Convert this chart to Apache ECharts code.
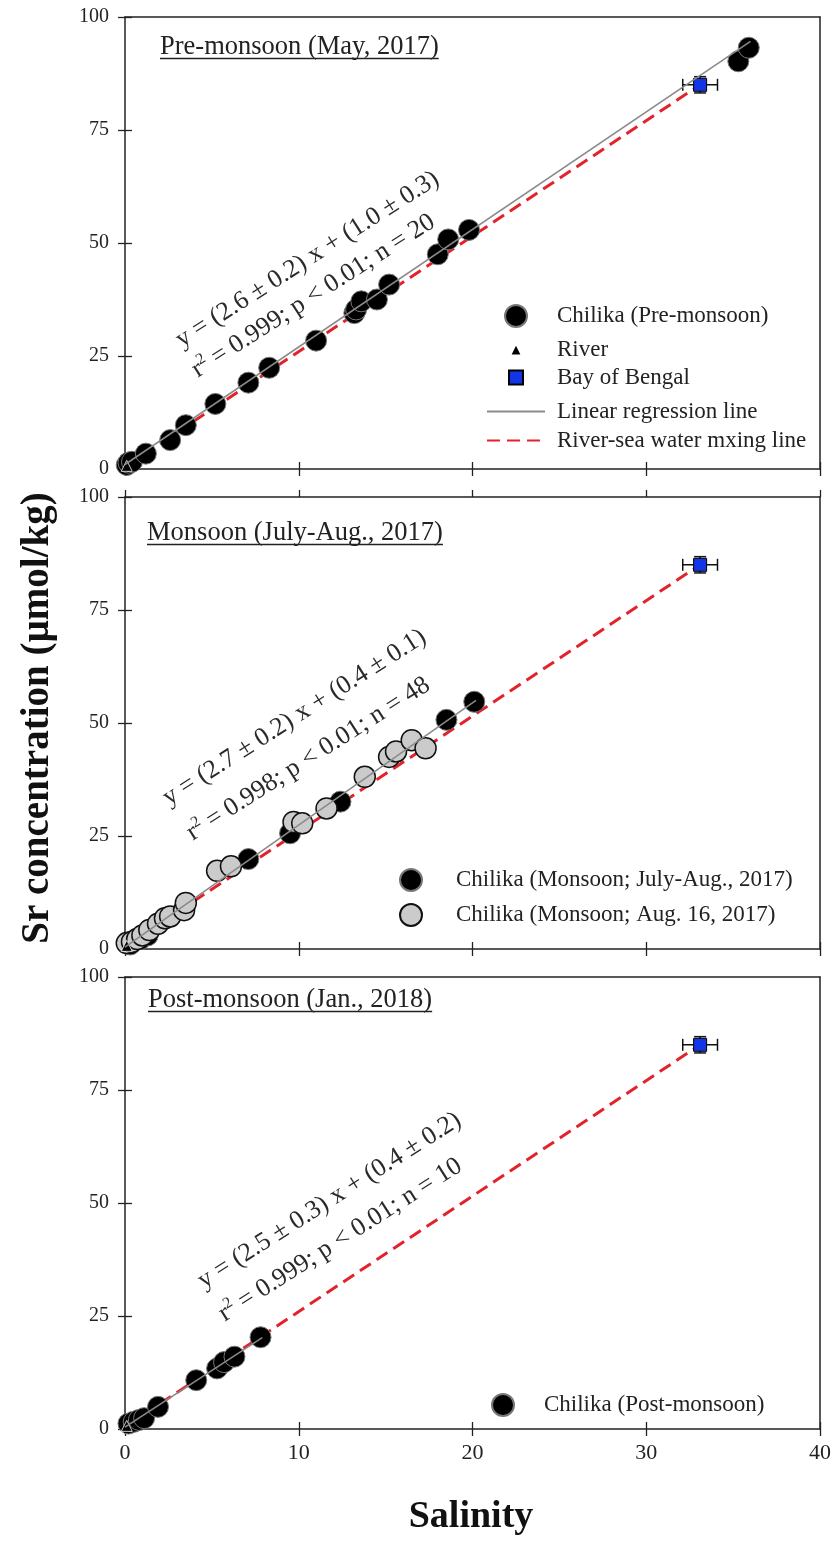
<!DOCTYPE html>
<html><head><meta charset="utf-8">
<script src="https://cdn.jsdelivr.net/npm/echarts@6/dist/echarts.min.js"></script>
<style>html,body{margin:0;padding:0;background:#fff}#c{width:835px;height:1542px}</style>
</head><body><div id="c"></div>
<script>
// ---------------- DATA ----------------
const xTickValues = [0, 10, 20, 30, 40];
const yTickValues = [0, 25, 50, 75, 100];

const preSal = [0.1, 0.2, 0.4, 1.2, 2.6, 3.5, 5.2, 7.1, 8.3, 11.0, 13.2, 13.3, 13.6, 14.5, 15.2, 18.0, 18.6, 19.8, 35.3, 35.9];
const preSr  = [0.9, 1.4, 1.6, 3.4, 6.4, 9.7, 14.4, 19.1, 22.4, 28.4, 34.5, 35.3, 37.1, 37.5, 40.8, 47.5, 50.8, 52.9, 90.2, 93.2];

const monBlackSal = [0.3, 0.9, 1.3, 7.1, 9.5, 12.4, 18.5, 20.1];
const monBlackSr  = [1.0, 2.2, 3.0, 19.9, 25.6, 32.6, 50.7, 54.7];
const monGreySal  = [0.1, 0.4, 0.7, 1.0, 1.4, 1.9, 2.3, 2.6, 3.4, 3.5, 5.3, 6.1, 9.7, 10.2, 11.6, 13.8, 15.2, 15.6, 16.5, 17.3];
const monGreySr   = [1.3, 1.6, 2.2, 3.0, 4.2, 5.6, 6.8, 7.2, 8.6, 10.2, 17.3, 18.3, 28.1, 27.8, 31.1, 38.1, 42.5, 43.7, 46.2, 44.4];

const postSal = [0.2, 0.5, 0.8, 1.1, 1.9, 4.1, 5.3, 5.7, 6.3, 7.8];
const postSr  = [1.2, 1.6, 2.0, 2.4, 4.9, 10.8, 13.4, 14.8, 16.0, 20.3];

const riverPoint = [0.1, 0.7];
const bobPoint = [33.1, 85.0];
const bobError = [1.0, 1.8];

const regPre  = [[0, 1.0], [36.0, 94.6]];
const regMon  = [[0, 0.4], [20.2, 55.0]];
const regPost = [[0, 0.4], [7.9, 20.2]];

const titles = ['Pre-monsoon (May, 2017)', 'Monsoon (July-Aug., 2017)', 'Post-monsoon (Jan., 2018)'];
const eqLine1 = ['y = (2.6 \u00b1 0.2) x + (1.0 \u00b1 0.3)', 'y = (2.7 \u00b1 0.2) x + (0.4 \u00b1 0.1)', 'y = (2.5 \u00b1 0.3) x + (0.4 \u00b1 0.2)'];
const eqLine2 = ['r{sup|2} = 0.999; p < 0.01; n = 20', 'r{sup|2} = 0.998; p < 0.01; n = 48', 'r{sup|2} = 0.999; p < 0.01; n = 10'];

const nameChilikaPre = 'Chilika (Pre-monsoon)';
const nameRiver = 'River';
const nameBoB = 'Bay of Bengal';
const nameReg = 'Linear regression line';
const nameMix = 'River-sea water mxing line';
const nameMonBlack = 'Chilika (Monsoon; July-Aug., 2017)';
const nameMonGrey = 'Chilika (Monsoon; Aug. 16, 2017)';
const namePost = 'Chilika (Post-monsoon)';
const yTitle = 'Sr concentration (\u00b5mol/kg)';
const xTitle = 'Salinity';

// ---------------- LAYOUT / STYLE ----------------
const FONT = '"Liberation Serif","Times New Roman",serif';
const TXT = '#222';
const gridTops = [17, 497, 977];
const GRID_H = 452, GRID_L = 125, GRID_R = 15;

const zip = (a, b) => a.map((v, i) => [v, b[i]]);

function axesFor(i) {
  const lineStyle = {color: '#222', width: 1.5};
  const tickStyle = {color: '#222', width: 1.3};
  const xs = [
    {gridIndex: i, type: 'value', min: 0, max: 40, interval: 10, position: 'bottom',
     axisLine: {show: true, onZero: false, lineStyle},
     axisTick: {show: true, inside: false, length: 7, lineStyle: tickStyle},
     axisLabel: {show: i === 2, margin: 13, fontSize: 22, fontFamily: FONT, color: TXT,
       formatter: v => xTickValues.includes(v) ? String(v) : ''},
     splitLine: {show: false}},
    {gridIndex: i, type: 'value', min: 0, max: 40, interval: 10, position: 'bottom',
     axisLine: {show: false, onZero: false},
     axisTick: {show: true, inside: true, length: 7, lineStyle: tickStyle},
     axisLabel: {show: false}, splitLine: {show: false}},
    {gridIndex: i, type: 'value', min: 0, max: 40, interval: 10, position: 'top',
     axisLine: {show: true, onZero: false, lineStyle},
     axisTick: {show: i === 1, inside: false, length: 7, lineStyle: tickStyle},
     axisLabel: {show: false}, splitLine: {show: false}}
  ];
  const ys = [
    {gridIndex: i, type: 'value', min: 0, max: 100, interval: 25, position: 'left',
     axisLine: {show: true, onZero: false, lineStyle},
     axisTick: {show: true, inside: false, length: 7, lineStyle: tickStyle},
     axisLabel: {show: true, margin: 16, fontSize: 20, fontFamily: FONT, color: TXT,
       formatter: v => yTickValues.includes(v) ? String(v) : ''},
     splitLine: {show: false}},
    {gridIndex: i, type: 'value', min: 0, max: 100, interval: 25, position: 'left',
     axisLine: {show: false, onZero: false},
     axisTick: {show: true, inside: true, length: 7, lineStyle: tickStyle},
     axisLabel: {show: false}, splitLine: {show: false}},
    {gridIndex: i, type: 'value', min: 0, max: 100, interval: 25, position: 'right',
     axisLine: {show: true, onZero: false, lineStyle},
     axisTick: {show: false}, axisLabel: {show: false}, splitLine: {show: false}}
  ];
  return {xs, ys};
}

const xAxis = [], yAxis = [], grid = [];
for (let i = 0; i < 3; i++) {
  grid.push({left: GRID_L, right: GRID_R, top: gridTops[i], height: GRID_H});
  const a = axesFor(i);
  xAxis.push(...a.xs); yAxis.push(...a.ys);
}

const blackCircle = {color: '#000', borderColor: '#777', borderWidth: 1, opacity: 1};
const greyCircle = {color: '#cbcbcb', borderColor: '#111', borderWidth: 1.5, opacity: 1};

function errorBarRender(params, api) {
  const x = api.value(0), y = api.value(1), ex = api.value(2), ey = api.value(3);
  const l = api.coord([x - ex, y]), r = api.coord([x + ex, y]);
  const b = api.coord([x, y - ey]), t = api.coord([x, y + ey]);
  const cap = 6;
  const st = {stroke: '#111', lineWidth: 1.5};
  const ln = (x1, y1, x2, y2) => ({type: 'line', shape: {x1, y1, x2, y2}, style: st});
  return {type: 'group', children: [
    ln(l[0], l[1], r[0], r[1]),
    ln(l[0], l[1] - cap, l[0], l[1] + cap),
    ln(r[0], r[1] - cap, r[0], r[1] + cap),
    ln(b[0], b[1], t[0], t[1]),
    ln(b[0] - cap, b[1], b[0] + cap, b[1]),
    ln(t[0] - cap, t[1], t[0] + cap, t[1])
  ]};
}

function panelSeries(i, scatters, reg) {
  const ax = {xAxisIndex: 3 * i, yAxisIndex: 3 * i};
  const out = [];
  out.push(Object.assign({type: 'line', name: nameMix, data: [riverPoint, bobPoint], symbol: 'none', showSymbol: false,
    lineStyle: {color: '#e3222b', width: 3, type: [13, 7]}, z: 1, silent: true}, ax));
  scatters.forEach(s => out.push(Object.assign({type: 'scatter', name: s.name, data: s.data, symbol: 'circle',
    symbolSize: 21, itemStyle: s.style, z: 2, silent: true}, ax)));
  out.push(Object.assign({type: 'scatter', name: nameRiver, data: [riverPoint], symbol: 'triangle', symbolSize: 11,
    itemStyle: {color: '#000', borderColor: '#fff', borderWidth: 0.8, opacity: 1}, z: 3, silent: true}, ax));
  out.push(Object.assign({type: 'custom', name: 'bob-error', data: [[bobPoint[0], bobPoint[1], bobError[0], bobError[1]]],
    renderItem: errorBarRender, z: 3, silent: true}, ax));
  out.push(Object.assign({type: 'scatter', name: nameBoB, data: [bobPoint], symbol: 'rect', symbolSize: 13,
    itemStyle: {color: '#1236e6', borderColor: '#000', borderWidth: 1, opacity: 1}, z: 4, silent: true}, ax));
  out.push(Object.assign({type: 'line', name: nameReg, data: reg, symbol: 'none', showSymbol: false,
    lineStyle: {color: '#8a8a8a', width: 1.6}, z: 5, silent: true}, ax));
  return out;
}

const series = [
  ...panelSeries(0, [{name: nameChilikaPre, data: zip(preSal, preSr), style: blackCircle}], regPre),
  ...panelSeries(1, [{name: nameMonBlack, data: zip(monBlackSal, monBlackSr), style: blackCircle},
                     {name: nameMonGrey, data: zip(monGreySal, monGreySr), style: greyCircle}], regMon),
  ...panelSeries(2, [{name: namePost, data: zip(postSal, postSr), style: blackCircle}], regPost)
];

// legends: one component per row
const LEG_FONT = 23;
function legendRow(name, cx, textX, cy, iconH, isLine, lineX0, lineW) {
  let left, w, h, pad, extra = {};
  if (isLine) { left = lineX0; w = lineW; h = 4; pad = textX - (lineX0 + lineW + 5); extra = {itemStyle: {opacity: 0}}; }
  else { w = iconH; h = iconH; left = cx - iconH / 2; pad = textX - (cx + iconH / 2 + 5); }
  return Object.assign({show: true, selectedMode: false, orient: 'vertical', left: left, top: cy - h / 2, padding: 0,
    itemWidth: w, itemHeight: h, data: [name],
    textStyle: {fontFamily: FONT, fontSize: LEG_FONT, color: TXT, padding: [0, 0, 0, pad]}}, extra);
}
const legend = [
  legendRow(nameChilikaPre, 515, 556, 315, 22, false),
  legendRow(nameRiver, 515, 556, 344, 12, false),
  legendRow(nameBoB, 515, 556, 373, 14, false),
  legendRow(nameReg, 515, 556, 402, 4, true, 486, 58),
  legendRow(nameMix, 515, 556, 431, 4, true, 486, 58),
  legendRow(nameMonBlack, 410, 455, 879, 22, false),
  legendRow(nameMonGrey, 410, 455, 914, 22, false),
  legendRow(namePost, 502, 543, 1404, 22, false)
];

// text measurement for underlines
const mctx = document.createElement('canvas').getContext('2d');
function textW(str, size, weight) { mctx.font = (weight || 'normal') + ' ' + size + 'px ' + FONT; return mctx.measureText(str).width; }

const TITLE_SIZE = 26.5;
const EQ_SIZE = 26;
const titleLeft = [160, 147, 148];
const titleBase = [56, 542, 1009];
const eqAnchor1 = [[178, 342], [165, 800], [200, 1283]];
const eqAnchor2 = [[194, 372], [189, 835], [221, 1316]];
const EQ_ROT = 32.5 * Math.PI / 180;

const graphic = [];
for (let i = 0; i < 3; i++) {
  const w = textW(titles[i], TITLE_SIZE);
  graphic.push({type: 'text', x: titleLeft[i], y: titleBase[i] - 9, z: 100,
    style: {text: titles[i], font: TITLE_SIZE + 'px ' + FONT, fill: TXT, align: 'left', verticalAlign: 'middle'}});
  graphic.push({type: 'line', z: 100, shape: {x1: titleLeft[i], y1: titleBase[i] + 2.5, x2: titleLeft[i] + w, y2: titleBase[i] + 2.5},
    style: {stroke: TXT, lineWidth: 1.3}});
  graphic.push({type: 'text', x: eqAnchor1[i][0], y: eqAnchor1[i][1], rotation: EQ_ROT, z: 100,
    style: {text: eqLine1[i], font: EQ_SIZE + 'px ' + FONT, fill: '#2a2a2a', align: 'left', verticalAlign: 'middle'}});
  graphic.push({type: 'text', x: eqAnchor2[i][0], y: eqAnchor2[i][1], rotation: EQ_ROT, z: 100,
    style: {text: eqLine2[i], font: EQ_SIZE + 'px ' + FONT, fill: '#2a2a2a', align: 'left', verticalAlign: 'middle',
      rich: {sup: {fontSize: 16, fontFamily: FONT, fill: '#2a2a2a', padding: [0, 0, 14, 0]}}}});
}
graphic.push({type: 'text', x: 38, y: 718, rotation: Math.PI / 2, z: 100,
  style: {text: yTitle, font: 'bold 39px ' + FONT, fill: '#111', align: 'center', verticalAlign: 'middle'}});
graphic.push({type: 'text', x: 471, y: 1517, z: 100,
  style: {text: xTitle, font: 'bold 38px ' + FONT, fill: '#111', align: 'center', verticalAlign: 'middle'}});

const chart = echarts.init(document.getElementById('c'), null, {renderer: 'canvas', width: 835, height: 1542});
chart.setOption({
  animation: false,
  backgroundColor: '#fff',
  grid, xAxis, yAxis, legend, series, graphic
});
</script></body></html>
